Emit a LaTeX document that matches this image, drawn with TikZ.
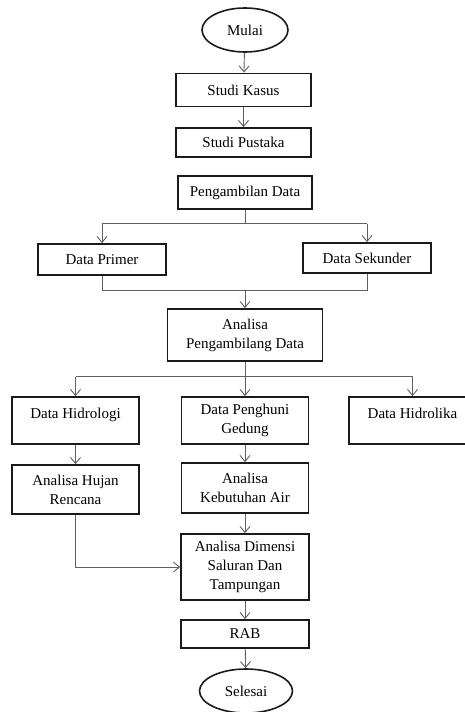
\documentclass[tikz,border=0pt]{standalone}
\usepackage{fontspec}
\setmainfont{Liberation Serif}
\usepackage{tikz}
\usetikzlibrary{arrows.meta, positioning, shapes.geometric, calc}
\definecolor{cline}{HTML}{606060}
\definecolor{cdark}{HTML}{1A1A1A}

\begin{document}
\begin{tikzpicture}[
    x=1pt, y=1pt,
    font=\fontsize{15}{19}\selectfont,
    box/.style={rectangle, draw=cdark, line width=1.8pt, align=center,
                inner sep=2pt, minimum width=127pt},
    term/.style={ellipse, draw=cdark, line width=1.6pt, inner sep=0pt},
    toptext/.style={text height=10.5pt, text depth=14pt},
    link/.style={draw=cline, line width=0.9pt},
    arr/.style={link, -{Straight Barb[length=6pt,width=10pt]}},
]
\useasboundingbox (0,0) rectangle (465,-712);

\node[term, minimum width=86pt, minimum height=44pt] (mulai) at (245,-30) {Mulai};
\node[box, minimum width=135pt, minimum height=33pt] (kasus)   at (243.5,-90)  {Studi Kasus};
\node[box, minimum width=135pt, minimum height=29pt] (pustaka) at (243.5,-142.5) {Studi Pustaka};
\node[box, minimum width=134pt, minimum height=33pt] (ambil)   at (245,-192.5) {Pengambilan Data};

\node[box, minimum width=128pt, minimum height=31pt] (primer)   at (102,-259.5) {Data Primer};
\node[box, minimum width=128pt, minimum height=30pt] (sekunder) at (367,-258)   {Data Sekunder};

\node[box, minimum width=155pt, minimum height=52pt] (analisa) at (245,-335) {Analisa\\Pengambilang Data};

\node[box, toptext, minimum height=47pt] (hidrologi) at (75.5,-420.5) {Data Hidrologi};
\node[box, minimum height=47pt]          (penghuni)  at (245,-420.5)  {Data Penghuni\\Gedung};
\node[box, toptext, minimum height=47pt] (hidrolika) at (412.5,-420.5) {Data Hidrolika};

\node[box, minimum height=49pt] (hujan)     at (75.5,-489.5) {Analisa Hujan\\Rencana};
\node[box, minimum height=50pt] (kebutuhan) at (245,-488)    {Analisa\\Kebutuhan Air};
\node[box, minimum width=128pt, minimum height=66pt] (dimensi) at (245,-567) {Analisa Dimensi\\Saluran Dan\\Tampungan};
\node[box, minimum width=128pt, minimum height=28pt] (rab) at (245,-634) {RAB};
\node[term, minimum width=93pt, minimum height=44pt] (selesai) at (246,-691) {Selesai};

% alur utama
\draw[arr] (mulai) -- (kasus);
\draw[arr] (kasus) -- (pustaka);

% percabangan data
\coordinate (pecah1) at ($(ambil.south)+(0,-14)$);
\draw[link] (ambil.south) -- (pecah1);
\draw[link] (primer.north |- pecah1) -- (sekunder.north |- pecah1);
\draw[arr] (primer.north |- pecah1) -- (primer.north);
\draw[arr] (sekunder.north |- pecah1) -- (sekunder.north);

\coordinate (gabung1) at (245,-290);
\draw[link] (primer.south) -- (primer.south |- gabung1) -- (sekunder.south |- gabung1) -- (sekunder.south);
\draw[arr] (gabung1) -- (analisa.north);

\coordinate (pecah2) at ($(analisa.south)+(0,-15)$);
\draw[link] (analisa.south) -- (pecah2);
\draw[link] (hidrologi.north |- pecah2) -- (hidrolika.north |- pecah2);
\draw[arr] (hidrologi.north |- pecah2) -- (hidrologi.north);
\draw[arr] (pecah2) -- (penghuni.north);
\draw[arr] (hidrolika.north |- pecah2) -- (hidrolika.north);

\draw[arr] (hidrologi) -- (hujan);
\draw[arr] (penghuni) -- (kebutuhan);
\draw[arr] (kebutuhan) -- (dimensi);
\draw[arr] (hujan.south) |- (dimensi.west);
\draw[arr] (dimensi) -- (rab);
\draw[arr] (rab) -- (selesai);
\end{tikzpicture}
\end{document}
